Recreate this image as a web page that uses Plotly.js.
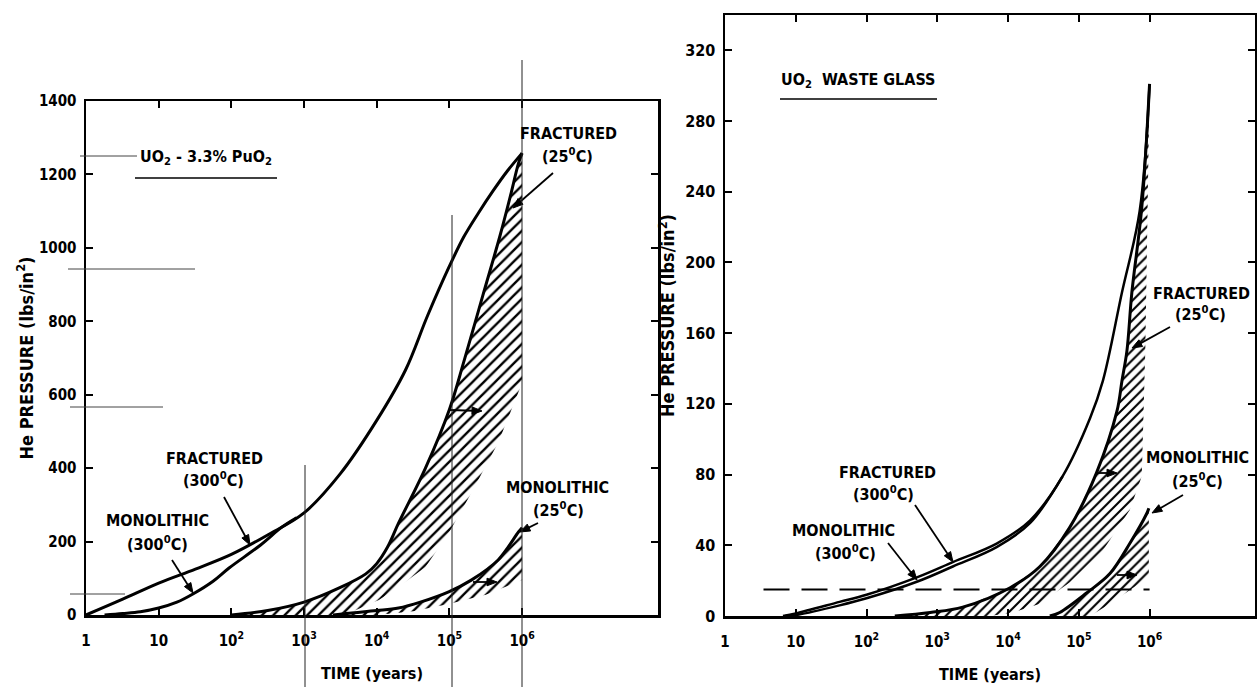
<!DOCTYPE html>
<html><head><meta charset="utf-8">
<script src="https://cdn.plot.ly/plotly-3.0.1.min.js"></script>
<style>html,body{margin:0;padding:0;background:#fff}#chart{width:1257px;height:687px}</style>
</head><body><div id="chart"></div>
<script>
// ===== Left panel: UO2 - 3.3% PuO2 (time in years, He pressure in lbs/in^2) =====
const leftFrac300T = [1, 3.2, 10, 32, 100, 316, 1000, 3160, 10000, 25000, 50000, 100000, 158000, 251000, 398000, 631000, 1000000];
const leftFrac300P = [0, 43, 87, 125, 165, 218, 278, 385, 530, 668, 815, 950, 1030, 1095, 1155, 1210, 1258];
const leftMono300T = [1.8, 3.2, 5.6, 10, 17.8, 30, 56, 93, 250, 500, 790];
const leftMono300P = [0, 4, 9, 19, 35, 58, 92, 128, 190, 240, 265];
const leftFrac25T = [100, 316, 1000, 3160, 7080, 10000, 14100, 19950, 46800, 100000, 158000, 288000, 500000, 708000, 891000, 1000000];
const leftFrac25P = [0, 12, 35, 75, 112, 140, 185, 250, 400, 560, 690, 870, 1035, 1150, 1230, 1258];
const leftFrac25EdgeT = [1000000, 468000, 200000, 97700, 46800, 19950, 10700, 5000, 2500];
const leftFrac25EdgeP = [632, 469, 332, 223, 131, 76, 41, 12, 0];
const leftMono25T = [2510, 4170, 10000, 19950, 39800, 97700, 200000, 468000, 891000, 1000000];
const leftMono25P = [0, 5, 12, 19, 35, 63, 95, 150, 226, 238];
const leftMono25EdgeT = [1000000, 316000, 97700, 31600, 10000];
const leftMono25EdgeP = [95, 55, 30, 10, 0];

// ===== Right panel: UO2 waste glass =====
const rightFrac300T = [6.6, 10, 41.7, 100, 525, 1660, 6900, 20400, 58900, 144500, 218800, 407000, 724000, 1000000];
const rightFrac300P = [0, 1.5, 8, 12, 22, 30.5, 41, 54, 79, 112, 133, 183, 229, 301];
const rightMono300T = [7.1, 10, 41.7, 100, 525, 1660, 6900, 20400, 58900];
const rightMono300P = [0, 0.5, 6, 10, 19.5, 28, 39, 52.5, 79];
const rightFrac25T = [251, 794, 2290, 10700, 28200, 74100, 177800, 346700, 407000, 478600, 562000, 776000, 1000000];
const rightFrac25P = [0, 2, 5, 16, 28, 50, 81, 116, 133, 150, 183, 231, 301];
const rightFrac25EdgeT = [955000, 870000, 776000, 525000, 218800, 74100, 28200, 11750, 5500];
const rightFrac25EdgeP = [258, 150, 79, 60, 37, 19, 7, 2, 0];
const rightMono25T = [38900, 53700, 128800, 275400, 525000, 912000, 977000];
const rightMono25P = [0, 2, 13, 24, 41, 58, 61];
const rightMono25EdgeT = [977000, 275400, 144500];
const rightMono25EdgeP = [22, 7, 0];
const rightLimitT = [3.5, 1000000];
const rightLimitP = [15, 15];

// tick labels
const xTickVals = [1, 10, 100, 1000, 10000, 100000, 1000000];
const xTickText = ['1', '10', '10<sup>2</sup>', '10<sup>3</sup>', '10<sup>4</sup>', '10<sup>5</sup>', '10<sup>6</sup>'];
const leftYTicks = [0, 200, 400, 600, 800, 1000, 1200, 1400];
const rightYTicks = [0, 40, 80, 120, 160, 200, 240, 280, 320];

const FONT = '"DejaVu Sans Condensed", "DejaVu Sans", sans-serif';
const W = 1257, H = 687;
const px = x => x / W, py = y => 1 - y / H;

function band(curveT, curveP, edgeT, edgeP, xa, ya, size) {
  return {
    x: curveT.concat(edgeT), y: curveP.concat(edgeP), xaxis: xa, yaxis: ya,
    type: 'scatter', mode: 'lines', fill: 'toself', line: {width: 0, color: 'rgba(0,0,0,0)'},
    fillcolor: 'rgba(0,0,0,0)',
    fillpattern: {shape: '/', fgcolor: '#000', bgcolor: 'rgba(0,0,0,0)', size: size, solidity: 0.3, fillmode: 'replace'},
    hoverinfo: 'skip'
  };
}
function curve(t, p, xa, ya, w) {
  return {x: t, y: p, xaxis: xa, yaxis: ya, type: 'scatter', mode: 'lines',
    line: {color: '#000', width: w, shape: 'spline', smoothing: 1.0}};
}

const data = [
  band(leftFrac25T, leftFrac25P, leftFrac25EdgeT, leftFrac25EdgeP, 'x', 'y', 8),
  band(leftMono25T, leftMono25P, leftMono25EdgeT, leftMono25EdgeP, 'x', 'y', 8),
  curve(leftFrac300T, leftFrac300P, 'x', 'y', 3),
  curve(leftMono300T, leftMono300P, 'x', 'y', 3),
  curve(leftFrac25T, leftFrac25P, 'x', 'y', 3),
  curve(leftMono25T, leftMono25P, 'x', 'y', 3),
  band(rightFrac25T, rightFrac25P, rightFrac25EdgeT, rightFrac25EdgeP, 'x2', 'y2', 7),
  band(rightMono25T, rightMono25P, rightMono25EdgeT, rightMono25EdgeP, 'x2', 'y2', 7),
  curve(rightFrac300T, rightFrac300P, 'x2', 'y2', 2.5),
  curve(rightMono300T, rightMono300P, 'x2', 'y2', 2.5),
  curve(rightFrac25T, rightFrac25P, 'x2', 'y2', 3),
  curve(rightMono25T, rightMono25P, 'x2', 'y2', 3),
  {x: rightLimitT, y: rightLimitP, xaxis: 'x2', yaxis: 'y2', type: 'scatter', mode: 'lines',
   line: {color: '#000', width: 1.8, dash: '26px,12px'}}
];

const axCommon = {
  showline: true, linecolor: '#000', linewidth: 2.5, mirror: 'ticks', ticks: 'inside',
  ticklen: 7, tickwidth: 2, tickcolor: '#000', showgrid: false, zeroline: false,
  tickfont: {family: FONT, size: 15, color: '#000', weight: 'bold'}
};
const yTitleFont = {family: FONT, size: 18, color: '#000', weight: 'bold'};
const xTitleFont = {family: FONT, size: 16, color: '#000', weight: 'bold'};

const layout = {
  width: W, height: H, margin: {l: 0, r: 0, t: 0, b: 0}, showlegend: false,
  paper_bgcolor: '#fff', plot_bgcolor: 'rgba(0,0,0,0)',
  font: {family: FONT, color: '#000'},
  xaxis: Object.assign({}, axCommon, {type: 'log', domain: [px(86), px(658)], range: [0, 7.87], anchor: 'y',
    tickvals: xTickVals, ticktext: xTickText, ticklabelstandoff: 10,
    title: {text: 'TIME (years)', font: xTitleFont, standoff: 20}}),
  yaxis: Object.assign({}, axCommon, {domain: [py(615), py(101)], range: [0, 1400], anchor: 'x',
    tickvals: leftYTicks, ticklabelstandoff: 4,
    title: {text: 'He PRESSURE (lbs/in<sup>2</sup>)', font: yTitleFont, standoff: 1}}),
  xaxis2: Object.assign({}, axCommon, {type: 'log', domain: [px(725), px(1255)], range: [0, 7.49], anchor: 'y2',
    tickvals: xTickVals, ticktext: xTickText, ticklabelstandoff: 10,
    title: {text: 'TIME (years)', font: xTitleFont, standoff: 20}}),
  yaxis2: Object.assign({}, axCommon, {domain: [py(616), py(15)], range: [0, 340], anchor: 'x2',
    tickvals: rightYTicks, ticklabelstandoff: 4,
    tickfont: {family: FONT, size: 16, color: '#000', weight: 'bold'},
    title: {text: 'He PRESSURE (lbs/in<sup>2</sup>)', font: yTitleFont, standoff: 6}}),
  annotations: [],
  shapes: []
};

const labFont = {family: FONT, size: 16, color: '#000', weight: 'bold'};
function label(text, cx, cy) {
  layout.annotations.push({text: text, x: px(cx), y: py(cy), xref: 'paper', yref: 'paper',
    xanchor: 'center', yanchor: 'middle', showarrow: false, font: labFont});
}
function line(x0, y0, x1, y1, w, c) {
  layout.shapes.push({type: 'line', xref: 'paper', yref: 'paper', x0: px(x0), y0: py(y0), x1: px(x1), y1: py(y1),
    line: {color: c || '#000', width: w}});
}
// pointer arrow drawn as a shaft plus a filled head (tail -> head, in page pixels)
function arrow(tx, ty, hx, hy) {
  const dx = hx - tx, dy = hy - ty, L = Math.hypot(dx, dy), ux = dx / L, uy = dy / L;
  const hl = 10, hw = 3.8;
  const bx = hx - ux * hl, by = hy - uy * hl;
  line(tx, ty, bx + ux * 2, by + uy * 2, 1.8);
  const p1x = bx - uy * hw, p1y = by + ux * hw, p2x = bx + uy * hw, p2y = by - ux * hw;
  layout.shapes.push({type: 'path', xref: 'paper', yref: 'paper',
    path: 'M' + px(hx) + ',' + py(hy) + ' L' + px(p1x) + ',' + py(p1y) + ' L' + px(p2x) + ',' + py(p2y) + ' Z',
    fillcolor: '#000', line: {color: '#000', width: 1}});
}

// left panel texts
label('UO<sub>2</sub> - 3.3% PuO<sub>2</sub>', 206, 158);
label('FRACTURED', 568, 134); label('(25<sup>0</sup>C)', 567, 155);
label('FRACTURED', 214, 458); label('(300<sup>0</sup>C)', 213, 479);
label('MONOLITHIC', 157, 520); label('(300<sup>0</sup>C)', 157, 543);
label('MONOLITHIC', 557, 487); label('(25<sup>0</sup>C)', 558, 510);
arrow(553, 173, 513, 208);
arrow(224, 497, 250, 545);
arrow(172, 560, 193, 593);
arrow(538, 523, 520, 532);
arrow(450, 410, 482, 411);
arrow(473, 582, 497, 582);
line(135, 178, 277, 178, 1.6);

// right panel texts
label('UO<sub>2</sub>  WASTE GLASS', 858, 80);
label('FRACTURED', 1201, 293); label('(25<sup>0</sup>C)', 1200, 313);
label('MONOLITHIC', 1197, 457); label('(25<sup>0</sup>C)', 1197, 480);
label('FRACTURED', 887, 472); label('(300<sup>0</sup>C)', 883, 493);
label('MONOLITHIC', 843, 530); label('(300<sup>0</sup>C)', 845, 552);
arrow(1170, 327, 1132, 348);
arrow(1183, 495, 1152, 513);
arrow(915, 505, 953, 562);
arrow(888, 543, 917, 580);
arrow(1097, 473, 1117, 473);
arrow(1117, 575, 1137, 575);
line(780, 99, 937, 99, 1.6);

// faint paste-up lines visible in the scanned original
line(305, 465, 305, 687, 1, '#222');
line(452, 215, 452, 687, 1, '#222');
line(522, 60, 522, 687, 1, '#222');
line(80, 156, 137, 156, 1, '#444');
line(68, 269, 195, 269, 1, '#444');
line(70, 407, 163, 407, 1, '#444');
line(70, 594, 125, 594, 1, '#444');

Plotly.newPlot('chart', data, layout, {staticPlot: true, displayModeBar: false});
</script></body></html>
